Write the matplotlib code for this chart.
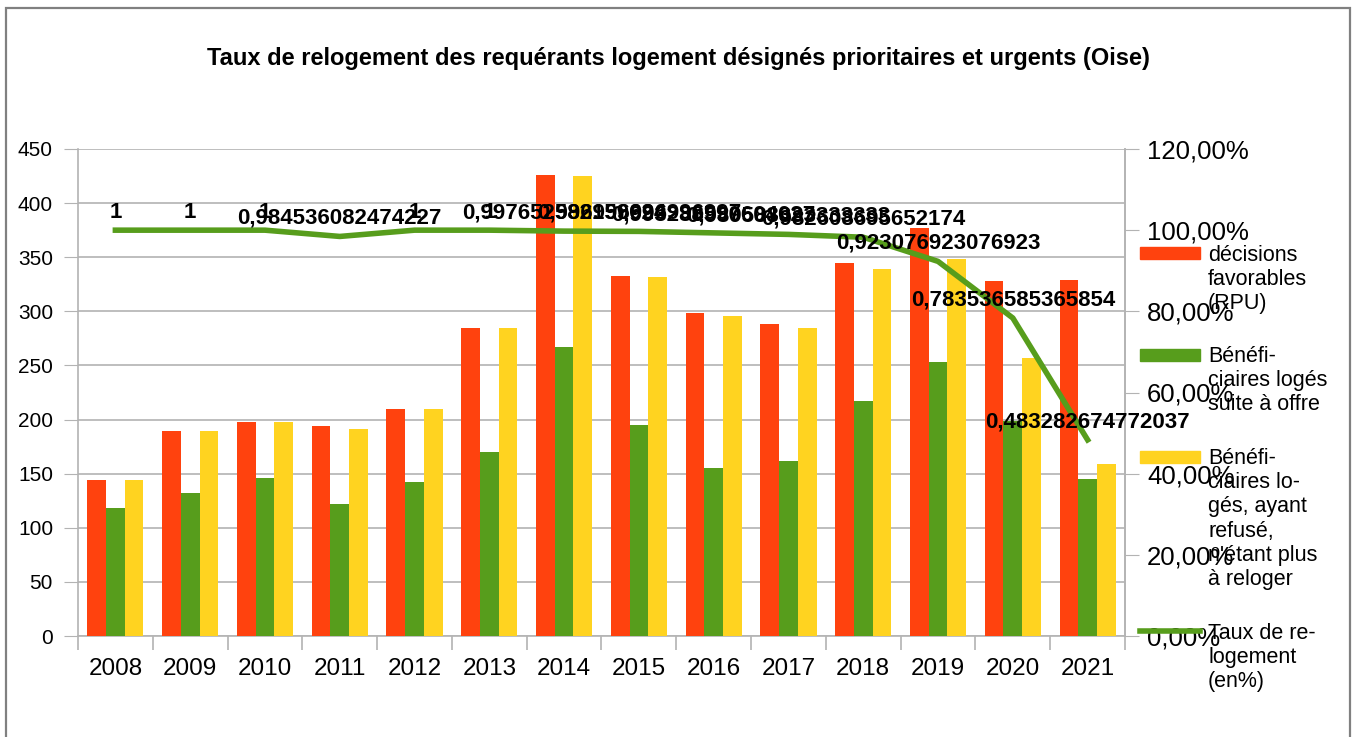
import matplotlib
matplotlib.use("Agg")
import matplotlib.pyplot as plt
from matplotlib.patches import Rectangle
from matplotlib.lines import Line2D
import numpy as np

plt.rcParams['font.family'] = ['Liberation Sans', 'DejaVu Sans']

years = ["2008", "2009", "2010", "2011", "2012", "2013", "2014",
         "2015", "2016", "2017", "2018", "2019", "2020", "2021"]
decisions = [144, 189, 198, 194, 210, 285, 426, 333, 298, 288, 345, 377, 328, 329]
loges_offre = [118, 132, 146, 122, 142, 170, 267, 195, 155, 162, 217, 253, 199, 145]
loges_total = [144, 189, 198, 191, 210, 285, 425, 332, 296, 285, 339, 348, 257, 159]
taux = [1, 1, 1, 0.984536082474227, 1, 1, 0.997652582159624, 0.996996996996997,
        0.993288590604027, 0.989583333333333, 0.982608695652174,
        0.923076923076923, 0.783536585365854, 0.483282674772037]

legend_labels = ["décisions\nfavorables\n(RPU)",
                 "Bénéfi-\nciaires logés\nsuite à offre",
                 "Bénéfi-\nciaires lo-\ngés, ayant\nrefusé,\nn'étant plus\nà reloger",
                 "Taux de re-\nlogement\n(en%)"]
title = "Taux de relogement des requérants logement désignés prioritaires et urgents (Oise)"

RED = "#ff420e"
GREEN = "#579d1c"
YELLOW = "#ffd320"
GRID = "#b3b3b3"

W, H = 1356, 737
fig = plt.figure(figsize=(W / 100, H / 100), dpi=100)

def fx(px):
    return px / W

def fy(py):
    return 1 - py / H

# outer border
fig.add_artist(Rectangle((fx(6), fy(760)), fx(1350) - fx(6), fy(8) - fy(760),
                         fill=False, edgecolor="#808080", linewidth=1.6,
                         transform=fig.transFigure))

fig.text(fx(678), fy(58), title, ha="center", va="center",
         fontsize=17, fontweight="bold")

ax = fig.add_axes([fx(78), fy(636), fx(1125) - fx(78), fy(149) - fy(636)])
x = np.arange(len(years))
bw = 0.25
ax.bar(x - bw, decisions, bw, color=RED, zorder=3)
ax.bar(x, loges_offre, bw, color=GREEN, zorder=3)
ax.bar(x + bw, loges_total, bw, color=YELLOW, zorder=3)

ax.set_xlim(-0.5, len(years) - 0.5)
ax.set_ylim(0, 450)
ax.set_yticks(np.arange(0, 451, 50))
ax.yaxis.grid(True, color=GRID, linewidth=1.2, zorder=0)
ax.set_axisbelow(True)
ax.tick_params(axis="y", length=10, color=GRID, labelsize=15, pad=8)
ax.set_xticks(x)
ax.set_xticklabels(years)
ax.tick_params(axis="x", which="major", length=0, labelsize=17.5, pad=16)
ax.set_xticks(np.arange(-0.5, len(years), 1), minor=True)
ax.tick_params(axis="x", which="minor", length=10, color=GRID, width=1.2)
ax.spines["top"].set_visible(False)
for s in ["left", "right", "bottom"]:
    ax.spines[s].set_color(GRID)
    ax.spines[s].set_linewidth(1.2)

ax2 = ax.twinx()
ax2.set_ylim(0, 1.2)
ax2.set_yticks(np.arange(0, 1.21, 0.2))
ax2.set_yticklabels([f"{v*100:.2f}%".replace(".", ",") for v in np.arange(0, 1.21, 0.2)])
ax2.tick_params(axis="y", length=10, color=GRID, labelsize=18.5, pad=6)
for s in ["top", "left", "bottom"]:
    ax2.spines[s].set_visible(False)
ax2.spines["right"].set_color(GRID)
ax2.spines["right"].set_linewidth(1.2)
ax2.plot(x, taux, color=GREEN, linewidth=4, zorder=4)
for xi, v in zip(x, taux):
    lab = f"{v:.15g}".replace(".", ",")
    ax2.annotate(lab, (xi, v), xytext=(0, 13), textcoords="offset points",
                 ha="center", va="center", fontsize=16, fontweight="bold",
                 zorder=6)

# legend (manual, LibreOffice style)
handles = [(RED, 247), (GREEN, 349), (YELLOW, 451)]
for col, top in handles:
    fig.add_artist(Rectangle((fx(1140), fy(top + 12)), fx(1200) - fx(1140),
                             fy(top) - fy(top + 12), color=col,
                             transform=fig.transFigure))
fig.add_artist(Line2D([fx(1140), fx(1200)], [fy(631), fy(631)], color=GREEN,
                      linewidth=4, transform=fig.transFigure))
text_tops = [245, 346, 448, 623]
for lab, top in zip(legend_labels, text_tops):
    fig.text(fx(1208), fy(top), lab, ha="left", va="top", fontsize=15.5,
             linespacing=1.2)

fig.savefig("out.png", dpi=100)
